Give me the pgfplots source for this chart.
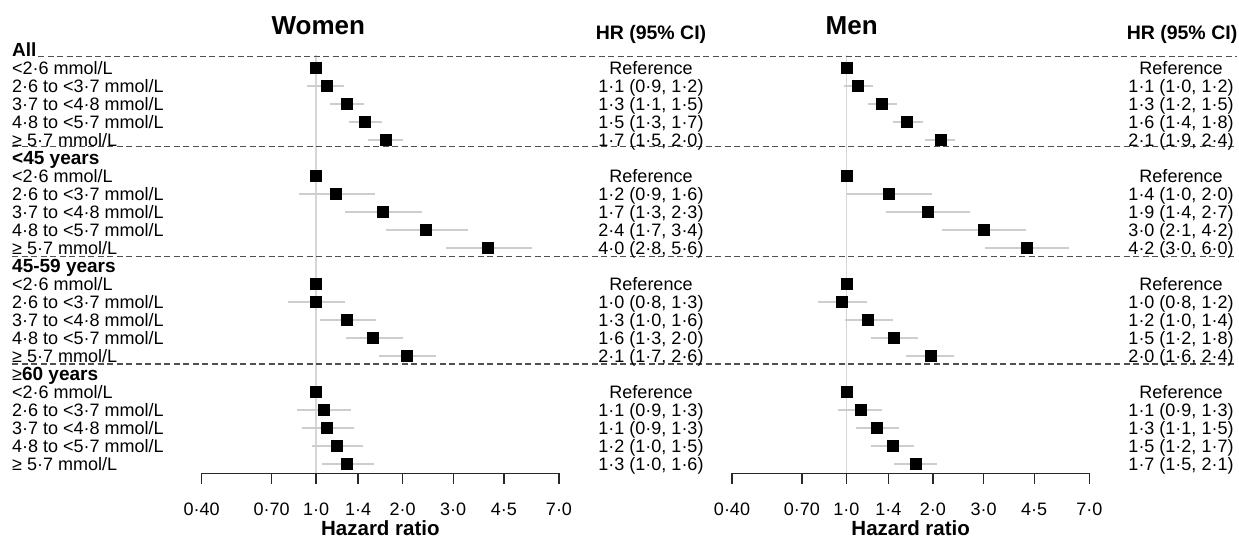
\documentclass[border=0pt]{standalone}
\usepackage{pgfplots}
\pgfplotsset{compat=1.18}
\usepackage{pgfplotstable}
\usepackage{fontspec}
\setmainfont{Liberation Sans}

\definecolor{cigrey}{RGB}{205,205,205}
\definecolor{refgrey}{RGB}{214,214,214}
\definecolor{sepgrey}{RGB}{80,80,80}
\definecolor{axgrey}{RGB}{40,40,40}

\newcommand\bodyfont{\fontsize{18}{20}\selectfont}
\newcommand\headfont{\fontsize{19}{21}\selectfont\bfseries}

% hazard ratios: row, estimate (rows 0, 6, 12, 18 are the group headings)
\pgfplotstableread{
r  hr
1  1.00
2  1.09
3  1.28
4  1.48
5  1.74
7  1.00
8  1.17
9  1.71
10 2.41
11 3.97
13 1.00
14 1.00
15 1.28
16 1.58
17 2.07
19 1.00
20 1.06
21 1.09
22 1.18
23 1.28
}\women

\pgfplotstableread{
r  hr
1  1.00
2  1.095
3  1.327
4  1.62
5  2.12
7  1.00
8  1.40
9  1.916
10 3.00
11 4.24
13 1.00
14 0.965
15 1.187
16 1.466
17 1.958
19 1.00
20 1.12
21 1.27
22 1.447
23 1.74
}\men

% 95% CI segments: lower, upper end of each row, nan breaks the line
\pgfplotstableread{
x    r
0.93 2
1.25 2
nan  nan
1.12 3
1.47 3
nan  nan
1.30 4
1.70 4
nan  nan
1.52 5
2.01 5
nan  nan
0.87 8
1.60 8
nan  nan
1.26 9
2.34 9
nan  nan
1.75 10
3.37 10
nan  nan
2.82 11
5.66 11
nan  nan
0.80 14
1.26 14
nan  nan
1.03 15
1.61 15
nan  nan
1.27 16
2.00 16
nan  nan
1.66 17
2.61 17
nan  nan
0.86 20
1.32 20
nan  nan
0.89 21
1.35 21
nan  nan
0.97 22
1.46 22
nan  nan
1.05 23
1.59 23
}\womenci

\pgfplotstableread{
x     r
0.98  2
1.24  2
nan   nan
1.19  3
1.50  3
nan   nan
1.45  4
1.84  4
nan   nan
1.88  5
2.39  5
nan   nan
1.006 8
1.985 8
nan   nan
1.369 9
2.69  9
nan   nan
2.146 10
4.21  10
nan   nan
3.03  11
5.94  11
nan   nan
0.796 14
1.177 14
nan   nan
0.99  15
1.447 15
nan   nan
1.217 16
1.769 16
nan   nan
1.616 17
2.375 17
nan   nan
0.936 20
1.325 20
nan   nan
1.083 21
1.52  21
nan   nan
1.217 22
1.72  22
nan   nan
1.466 23
2.07  23
}\menci

\begin{document}
\begin{tikzpicture}

% Women
\begin{axis}[scale only axis, width=357.3pt, height=441.3pt,
  at={(201.7pt,66.7pt)}, anchor=south west,
  xmode=log, xmin=0.4, xmax=7, ymin=-23.52, ymax=1,
  clip=false, unbounded coords=jump,
  axis x line*=bottom, axis y line=none,
  axis line style={axgrey, line width=1.3pt},
  xtick={0.4,0.7,1,1.4,2,3,4.5,7},
  xticklabels={0·40,0·70,1·0,1·4,2·0,3·0,4·5,7·0},
  minor xtick={},
  xtick align=outside, major tick length=10.7pt,
  xtick style={axgrey, line width=1.3pt},
  xticklabel style={font=\fontsize{18}{20}\selectfont, anchor=base, yshift=-31.8pt},
  ytick=\empty]
\addplot[refgrey, line width=1.5pt, forget plot] coordinates {(1,-0.3) (1,-23.52)};
\addplot[cigrey, line width=1.5pt, forget plot] table[x=x, y expr=-\thisrow{r}] {\womenci};
\addplot[only marks, mark=square*, mark size=5.5pt, mark options={fill=black, draw=black}]
  table[x=hr, y expr=-\thisrow{r}] {\women};
\end{axis}

% Men
\begin{axis}[scale only axis, width=357.3pt, height=441.3pt,
  at={(732pt,66.7pt)}, anchor=south west,
  xmode=log, xmin=0.4, xmax=7, ymin=-23.52, ymax=1,
  clip=false, unbounded coords=jump,
  axis x line*=bottom, axis y line=none,
  axis line style={axgrey, line width=1.3pt},
  xtick={0.4,0.7,1,1.4,2,3,4.5,7},
  xticklabels={0·40,0·70,1·0,1·4,2·0,3·0,4·5,7·0},
  minor xtick={},
  xtick align=outside, major tick length=10.7pt,
  xtick style={axgrey, line width=1.3pt},
  xticklabel style={font=\fontsize{18}{20}\selectfont, anchor=base, yshift=-31.8pt},
  ytick=\empty]
\addplot[refgrey, line width=1.5pt, forget plot] coordinates {(1,-0.3) (1,-23.52)};
\addplot[cigrey, line width=1.5pt, forget plot] table[x=x, y expr=-\thisrow{r}] {\menci};
\addplot[only marks, mark=square*, mark size=5.5pt, mark options={fill=black, draw=black}]
  table[x=hr, y expr=-\thisrow{r}] {\men};
\end{axis}

\begin{scope}[x=1pt, y=1pt]
% group separators
\draw[sepgrey, line width=1.5pt, dash pattern=on 6pt off 3.5pt] (38,483.5) -- (1237,483.5);
\foreach \yy in {393.3, 283.3, 176}
  \draw[sepgrey, line width=1.5pt, dash pattern=on 6pt off 3.5pt] (12,\yy) -- (1237,\yy);

% group headings
\foreach \r/\t in {0/{\headfont All}, 6/{\headfont <45 years}, 12/{\headfont 45-59 years}, 18/{≥{\headfont 60 years}}}
  \node[anchor=base west, inner sep=0pt, font=\bodyfont] at (12,{483.6-18*\r}) {\t};

% row labels
\foreach \r/\t in {
  1/{<2·6 mmol/L}, 2/{2·6 to <3·7 mmol/L}, 3/{3·7 to <4·8 mmol/L}, 4/{4·8 to <5·7 mmol/L}, 5/{≥ 5·7 mmol/L},
  7/{<2·6 mmol/L}, 8/{2·6 to <3·7 mmol/L}, 9/{3·7 to <4·8 mmol/L}, 10/{4·8 to <5·7 mmol/L}, 11/{≥ 5·7 mmol/L},
  13/{<2·6 mmol/L}, 14/{2·6 to <3·7 mmol/L}, 15/{3·7 to <4·8 mmol/L}, 16/{4·8 to <5·7 mmol/L}, 17/{≥ 5·7 mmol/L},
  19/{<2·6 mmol/L}, 20/{2·6 to <3·7 mmol/L}, 21/{3·7 to <4·8 mmol/L}, 22/{4·8 to <5·7 mmol/L}, 23/{≥ 5·7 mmol/L}}
  \node[anchor=base west, inner sep=0pt, font=\bodyfont] at (12,{483.6-18*\r}) {\t};

% HR (95% CI) columns
\foreach \r/\t in {1/Reference, 2/{1·1 (0·9, 1·2)}, 3/{1·3 (1·1, 1·5)}, 4/{1·5 (1·3, 1·7)}, 5/{1·7 (1·5, 2·0)},
  7/Reference, 8/{1·2 (0·9, 1·6)}, 9/{1·7 (1·3, 2·3)}, 10/{2·4 (1·7, 3·4)}, 11/{4·0 (2·8, 5·6)},
  13/Reference, 14/{1·0 (0·8, 1·3)}, 15/{1·3 (1·0, 1·6)}, 16/{1·6 (1·3, 2·0)}, 17/{2·1 (1·7, 2·6)},
  19/Reference, 20/{1·1 (0·9, 1·3)}, 21/{1·1 (0·9, 1·3)}, 22/{1·2 (1·0, 1·5)}, 23/{1·3 (1·0, 1·6)}}
  \node[anchor=base, inner sep=0pt, font=\bodyfont] at (651,{483.6-18*\r}) {\t};
\foreach \r/\t in {1/Reference, 2/{1·1 (1·0, 1·2)}, 3/{1·3 (1·2, 1·5)}, 4/{1·6 (1·4, 1·8)}, 5/{2·1 (1·9, 2·4)},
  7/Reference, 8/{1·4 (1·0, 2·0)}, 9/{1·9 (1·4, 2·7)}, 10/{3·0 (2·1, 4·2)}, 11/{4·2 (3·0, 6·0)},
  13/Reference, 14/{1·0 (0·8, 1·2)}, 15/{1·2 (1·0, 1·4)}, 16/{1·5 (1·2, 1·8)}, 17/{2·0 (1·6, 2·4)},
  19/Reference, 20/{1·1 (0·9, 1·3)}, 21/{1·3 (1·1, 1·5)}, 22/{1·5 (1·2, 1·7)}, 23/{1·7 (1·5, 2·1)}}
  \node[anchor=base, inner sep=0pt, font=\bodyfont] at (1181,{483.6-18*\r}) {\t};

% titles
\node[anchor=base, inner sep=0pt, font=\fontsize{26}{30}\selectfont\bfseries] at (318.3,505) {Women};
\node[anchor=base, inner sep=0pt, font=\fontsize{26}{30}\selectfont\bfseries] at (851.7,505) {Men};
\node[anchor=base, inner sep=0pt, font=\fontsize{19.5}{22}\selectfont\bfseries] at (651,500) {HR (95\% CI)};
\node[anchor=base, inner sep=0pt, font=\fontsize{19.5}{22}\selectfont\bfseries] at (1182,500) {HR (95\% CI)};
\node[anchor=base, inner sep=0pt, font=\fontsize{20.5}{24}\selectfont\bfseries] at (380.4,4) {Hazard ratio};
\node[anchor=base, inner sep=0pt, font=\fontsize{20.5}{24}\selectfont\bfseries] at (910.7,4) {Hazard ratio};

\pgfresetboundingbox
\useasboundingbox (0,0) rectangle (1239,540);
\end{scope}
\end{tikzpicture}
\end{document}
